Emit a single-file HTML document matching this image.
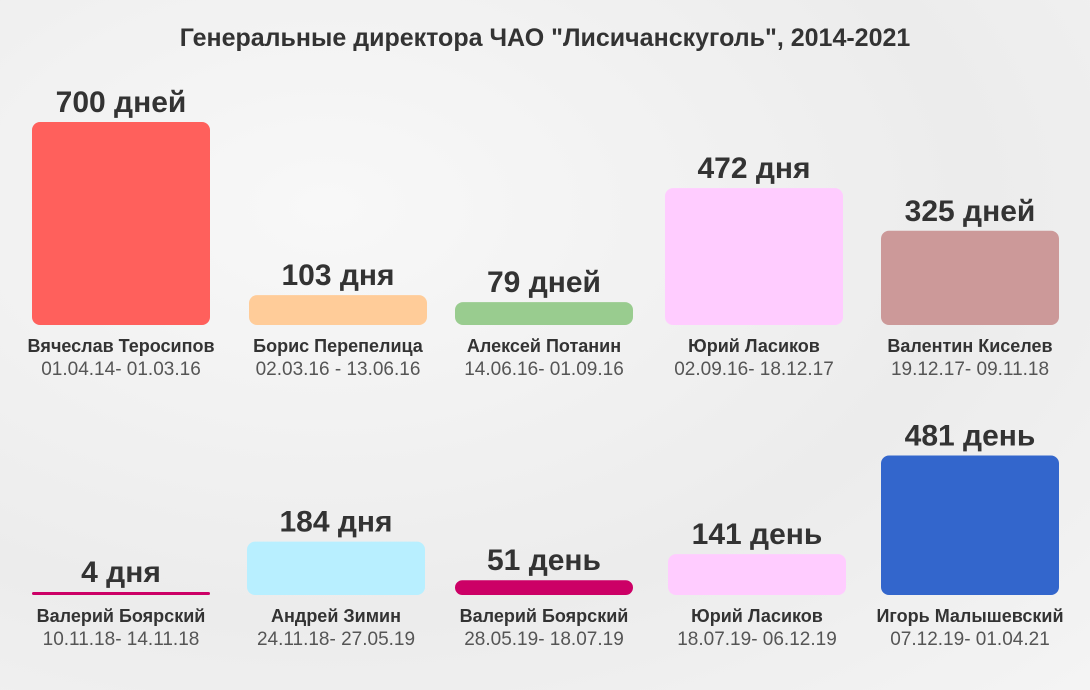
<!DOCTYPE html>
<html><head><meta charset="utf-8"><style>
body{margin:0;width:1090px;height:690px;overflow:hidden;font-family:"Liberation Sans",sans-serif;
background:radial-gradient(ellipse at 30% 30%,#f8f8f8,#ececec 60%,#f4f4f4);}
svg{display:block}
</style></head><body>
<svg width="1090" height="690">
<text x="545" y="46" text-anchor="middle" font-size="25" font-weight="bold" fill="#333">Генеральные директора ЧАО "Лисичанскуголь", 2014-2021</text>
<g id="marks"></g>
</svg>
<script>
const names=["Вячеслав Теросипов","Борис Перепелица","Алексей Потанин","Юрий Ласиков","Валентин Киселев","Валерий Боярский","Андрей Зимин","Валерий Боярский","Юрий Ласиков","Игорь Малышевский"];
const days=[700,103,79,472,325,4,184,51,141,481];
const valueLabels=["700 дней","103 дня","79 дней","472 дня","325 дней","4 дня","184 дня","51 день","141 день","481 день"];
const periods=["01.04.14- 01.03.16","02.03.16 - 13.06.16","14.06.16- 01.09.16","02.09.16- 18.12.17","19.12.17- 09.11.18","10.11.18- 14.11.18","24.11.18- 27.05.19","28.05.19- 18.07.19","18.07.19- 06.12.19","07.12.19- 01.04.21"];
const colors=["#ff605c","#ffcc99","#99cc8f","#ffccff","#cc9999","#cc0066","#b8efff","#cc0066","#ffccff","#3366cc"];
const lefts=[32,249,455,665,881,32,247,455,668,881];
const baselines=[325,595];
const scale=0.29, barW=178;
const ns="http://www.w3.org/2000/svg";
const g=document.getElementById('marks');
function mk(t,a){const e=document.createElementNS(ns,t);for(const k in a)e.setAttribute(k,a[k]);g.appendChild(e);return e;}
days.forEach((d,i)=>{
  const row=i<5?0:1, base=baselines[row], x=lefts[i];
  const h=Math.max(3,d*scale), y=base-h;
  const r=mk('rect',{x:x,y:y,width:barW,height:h,rx:Math.min(8,h/2),fill:colors[i]});
  
  
  const cx=x+barW/2;
  const v=mk('text',{x:cx,y:y-10,'text-anchor':'middle','font-size':30,'font-weight':'bold',fill:'#333'});
  v.textContent=valueLabels[i];
  
  
  const n=mk('text',{x:cx,y:base+27,'text-anchor':'middle','font-size':18,'font-weight':'bold',fill:'#333'});
  n.textContent=names[i];
  
  
  const p=mk('text',{x:cx,y:base+50,'text-anchor':'middle','font-size':19,fill:'#555'});
  p.textContent=periods[i];
  
  
});
</script>
</body></html>
